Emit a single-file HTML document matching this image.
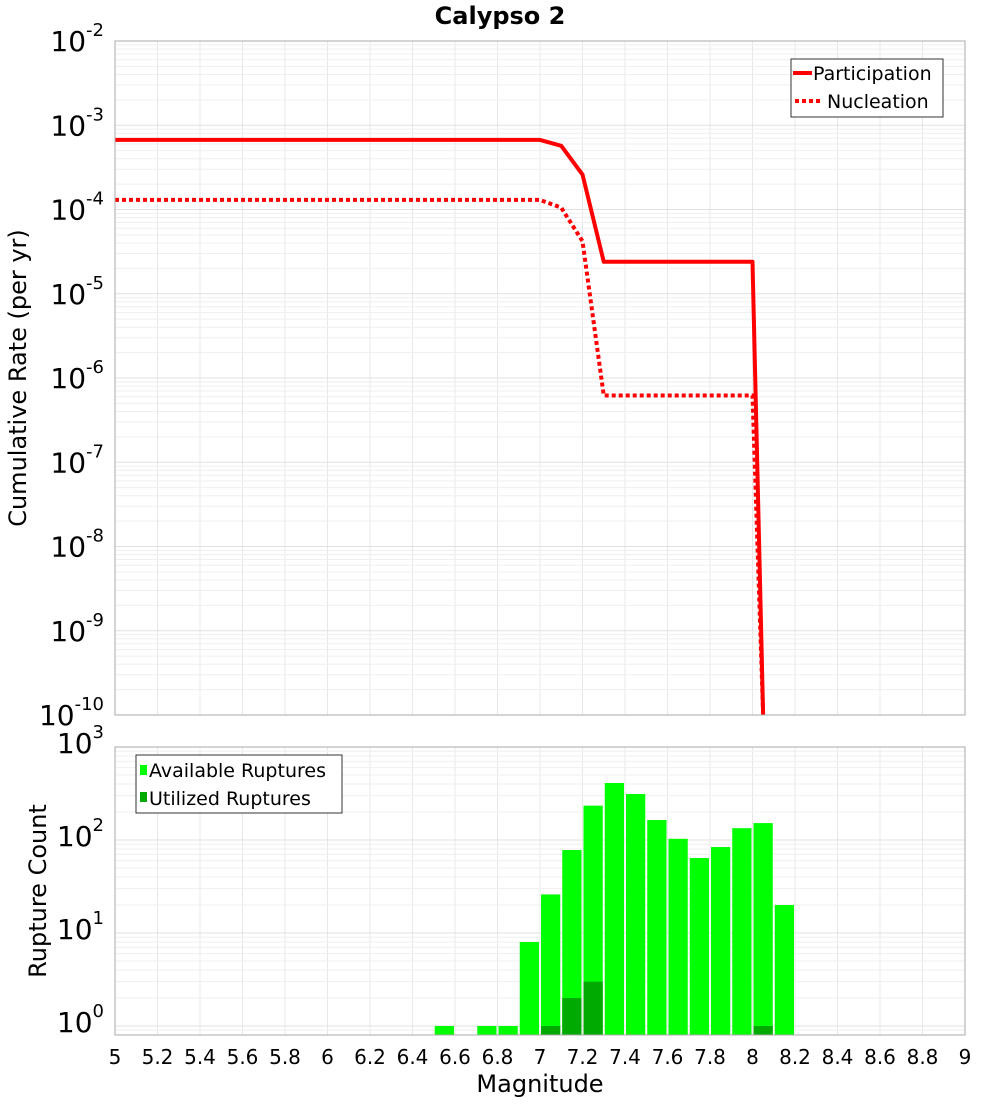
<!DOCTYPE html>
<html><head><meta charset="utf-8"><style>
body{margin:0;background:#fff;width:1000px;height:1100px;overflow:hidden;font-family:"Liberation Sans","DejaVu Sans",sans-serif}
svg text{font-family:"DejaVu Sans","Liberation Sans",sans-serif}
</style></head><body>
<svg id="c" width="1000" height="1100" xmlns="http://www.w3.org/2000/svg"></svg>
<script>
const xTicks=[5,5.2,5.4,5.6,5.8,6,6.2,6.4,6.6,6.8,7,7.2,7.4,7.6,7.8,8,8.2,8.4,8.6,8.8,9];
const topDecades=[-2,-3,-4,-5,-6,-7,-8,-9,-10];
const botDecades=[0,1,2,3];
const partMag=[5,7.0,7.1,7.2,7.3,8.0,8.05];
const partRate=[6.7e-4,6.7e-4,5.7e-4,2.6e-4,2.4e-5,2.4e-5,1e-10];
const nuclMag=[5,7.0,7.1,7.2,7.3,8.0,8.05];
const nuclRate=[1.3e-4,1.3e-4,1.05e-4,4.2e-5,6.2e-7,6.2e-7,1e-10];
const binStart=[6.5,6.7,6.8,6.9,7.0,7.1,7.2,7.3,7.4,7.5,7.6,7.7,7.8,7.9,8.0,8.1];
const available=[1,1,1,8,26,78,234,410,312,164,103,64,84,134,152,20];
const utilized=[0,0,0,0,1,2,3,0,0,0,0,0,0,0,1,0];

const NS="http://www.w3.org/2000/svg",svg=document.getElementById('c');
function el(t,a,p){const e=document.createElementNS(NS,t);for(const k in a)e.setAttribute(k,a[k]);(p||svg).appendChild(e);return e;}
const L=115,R=965;
const x=m=>L+(m-5)/4*(R-L);
const T1=41,B1=715;const y1=v=>T1+(-2-Math.log10(v))/8*(B1-T1);
const T2=747,B2=1035,PD=93;const y2=v=>T2+(3-Math.log10(v))*PD;

function grid(T,B,yf,dmin,dmax,name){
  const g=el('g',{});
  xTicks.forEach(t=>el('line',{x1:x(t),x2:x(t),y1:T,y2:B,stroke:'#e8e8e8','stroke-width':1},g));
  for(let d=dmin;d<dmax;d++)for(let k=1;k<10;k++){const yy=yf(k*Math.pow(10,d));if(yy>=T&&yy<=B)el('line',{x1:L,x2:R,y1:yy,y2:yy,stroke:k==1?'#e0e0e0':'#efefef','stroke-width':1},g);}
}
grid(T1,B1,y1,-10,-2,'top-grid');
grid(T2,B2,y2,-1,3,'bottom-grid');

const bars=el('g',{});
binStart.forEach((b,i)=>{
  const x0=x(b)+1,w=x(b+0.1)-x(b)-2;
  const r=el('rect',{x:x0,y:y2(available[i]),width:w,height:B2-y2(available[i]),fill:'#00ff00'},bars);
  
  if(utilized[i]>0){const u=el('rect',{x:x0,y:y2(utilized[i]),width:w,height:B2-y2(utilized[i]),fill:'#00aa00'},bars);
  }
});

const cp=el('clipPath',{id:'cp1'});el('rect',{x:L,y:T1,width:R-L,height:B1-T1+2},cp);
const pts=(ms,vs)=>ms.map((m,i)=>x(m)+','+y1(vs[i])).join(' ');
const p1=el('polyline',{points:pts(partMag,partRate),fill:'none',stroke:'#ff0000','stroke-width':4,'clip-path':'url(#cp1)','stroke-linejoin':'round'});

const p2=el('polyline',{points:pts(nuclMag,nuclRate),fill:'none',stroke:'#ff0000','stroke-width':4,'stroke-dasharray':'4,3','clip-path':'url(#cp1)'});


el('rect',{x:L,y:T1,width:R-L,height:B1-T1,fill:'none',stroke:'#aaa'});
el('rect',{x:L,y:T2,width:R-L,height:B2-T2,fill:'none',stroke:'#aaa'});

function ylab(yy,e,name){const t=el('text',{x:104,y:yy+10,'text-anchor':'end','font-size':28,fill:'#000'});
 t.textContent='10';const s=el('tspan',{dy:-15,'font-size':18},t);s.textContent=e;}
topDecades.forEach(d=>ylab(y1(Math.pow(10,d)),String(d),'y-tick-top'));
botDecades.forEach(d=>ylab(y2(Math.pow(10,d))-4,String(d),'y-tick-bottom'));
xTicks.forEach(t=>{const e=el('text',{x:x(t),y:1064,'text-anchor':'middle','font-size':20});e.textContent=String(t);});

function txt(s,a,name){const e=el('text',a);e.textContent=s;return e;}
txt('Calypso 2',{x:500,y:24,'text-anchor':'middle','font-size':24,'font-weight':'bold'},'chart-title');
txt('Magnitude',{x:540,y:1092,'text-anchor':'middle','font-size':24},'x-axis-title');
txt('Cumulative Rate (per yr)',{x:0,y:0,'text-anchor':'middle','font-size':24,transform:'translate(26,378) rotate(-90)'},'y-axis-title-top');
txt('Rupture Count',{x:0,y:0,'text-anchor':'middle','font-size':24,transform:'translate(46,891) rotate(-90)'},'y-axis-title-bottom');

const lg=el('g',{});
el('rect',{x:791,y:59,width:152,height:58,fill:'#fff',stroke:'#333'},lg);
el('line',{x1:793,x2:812,y1:73,y2:73,stroke:'#f00','stroke-width':4},lg);
el('line',{x1:795,x2:822,y1:101,y2:101,stroke:'#f00','stroke-width':4,'stroke-dasharray':'4,3'},lg);
txt('Participation',{x:813,y:80,'font-size':19},'legend-participation');
txt('Nucleation',{x:827,y:108,'font-size':19},'legend-nucleation');
const lg2=el('g',{});
el('rect',{x:136,y:755,width:206,height:58,fill:'#fff',stroke:'#333'},lg2);
el('rect',{x:140,y:765,width:7,height:10,fill:'#00ff00'},lg2);
el('rect',{x:140,y:792,width:7,height:10,fill:'#00aa00'},lg2);
txt('Available Ruptures',{x:149,y:777,'font-size':19},'legend-available');
txt('Utilized Ruptures',{x:149,y:805,'font-size':19},'legend-utilized');
</script>
</body></html>
